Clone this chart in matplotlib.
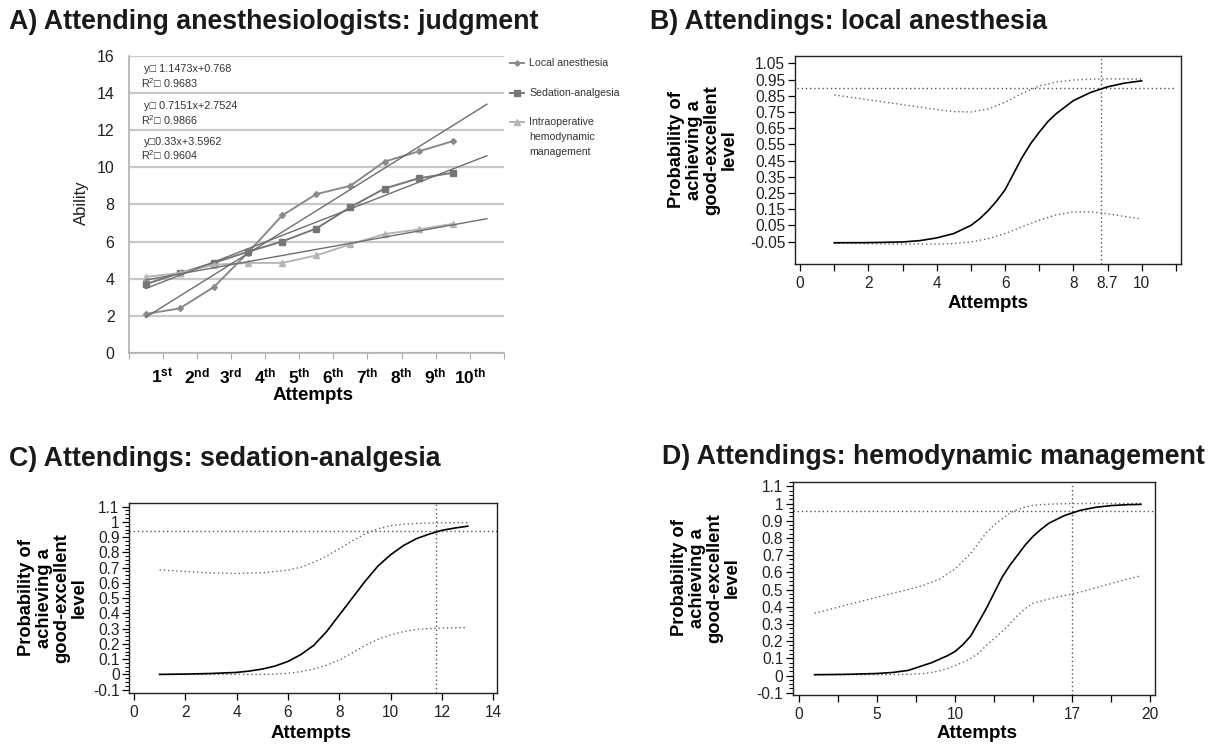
import matplotlib
matplotlib.use('Agg')
import matplotlib.pyplot as plt
import numpy as np
from matplotlib.ticker import MultipleLocator
from matplotlib.lines import Line2D

W, H = 1221, 744
plt.rcParams['font.family'] = ['Liberation Sans', 'DejaVu Sans']
plt.rcParams['mathtext.fontset'] = 'custom'
plt.rcParams['mathtext.rm'] = 'Liberation Sans'
plt.rcParams['mathtext.bf'] = 'Liberation Sans:bold'
plt.rcParams['mathtext.it'] = 'Liberation Sans:italic'

# ---------------- Panel A data ----------------
attempt_idx = [1, 2, 3, 4, 5, 6, 7, 8, 9, 10]
attempt_labels = [r'1$^{\mathbf{st}}$', r'2$^{\mathbf{nd}}$', r'3$^{\mathbf{rd}}$',
                  r'4$^{\mathbf{th}}$', r'5$^{\mathbf{th}}$', r'6$^{\mathbf{th}}$',
                  r'7$^{\mathbf{th}}$', r'8$^{\mathbf{th}}$', r'9$^{\mathbf{th}}$',
                  r'10$^{\mathbf{th}}$']
local_anesthesia = [2.1, 2.4, 3.55, 5.4, 7.4, 8.55, 9.0, 10.3, 10.85, 11.4]
sedation_analgesia = [3.7, 4.3, 4.85, 5.45, 6.0, 6.7, 7.85, 8.85, 9.4, 9.7]
hemodynamic = [4.1, 4.3, 4.75, 4.85, 4.85, 5.25, 5.85, 6.4, 6.65, 6.95]
series_names = ['Local anesthesia', 'Sedation-analgesia',
                'Intraoperative\nhemodynamic\nmanagement']
trend_slopes = [1.1473, 0.7151, 0.33]
trend_intercepts = [0.768, 2.7524, 3.5962]
trend_r2 = ['0.9683', '0.9866', '0.9604']
trend_eq = ['y\u25a1 1.1473x+0.768', 'y\u25a1 0.7151x+2.7524', 'y\u25a10.33x+3.5962']
trend_range = [1, 11]

# ---------------- Panel B data ----------------
b_x = [1, 2, 3, 3.5, 4, 4.5, 5, 5.25, 5.5, 5.75, 6, 6.25, 6.5, 6.75, 7, 7.25, 7.5, 8, 8.5, 9, 9.5, 10]
b_y = [-0.057, -0.056, -0.052, -0.044, -0.027, 0.0, 0.05, 0.09, 0.14, 0.2, 0.27, 0.37, 0.47,
       0.555, 0.625, 0.69, 0.74, 0.82, 0.87, 0.905, 0.928, 0.942]
b_up_x = [1, 1.5, 2, 2.5, 3, 3.5, 4, 4.5, 5, 5.5, 6, 6.5, 7, 7.5, 8, 8.5, 9, 9.5, 10]
b_up_y = [0.855, 0.84, 0.825, 0.81, 0.795, 0.78, 0.765, 0.752, 0.75, 0.768, 0.81, 0.865,
          0.91, 0.935, 0.947, 0.952, 0.954, 0.954, 0.953]
b_lo_x = [1, 2, 3, 4, 4.5, 5, 5.5, 6, 6.5, 7, 7.5, 8, 8.5, 9, 9.5, 10]
b_lo_y = [-0.06, -0.062, -0.065, -0.065, -0.062, -0.052, -0.032, 0.0, 0.042, 0.083, 0.115,
          0.133, 0.134, 0.122, 0.105, 0.09]
b_threshold = 0.90
b_cutoff = 8.8
b_xticks = [0, 1, 2, 3, 4, 5, 6, 7, 8, 9, 10, 11]
b_xticklabels = ['0', '', '2', '', '4', '', '6', '', '8', '8.7', '10', '']
b_yticks = [-0.05, 0.05, 0.15, 0.25, 0.35, 0.45, 0.55, 0.65, 0.75, 0.85, 0.95, 1.05]

# ---------------- Panel C data ----------------
c_x = [1, 2, 3, 4, 4.5, 5, 5.5, 6, 6.5, 7, 7.5, 8, 8.5, 9, 9.5, 10, 10.5, 11, 11.5, 12, 12.5, 13]
c_y = [0.0, 0.002, 0.006, 0.013, 0.022, 0.035, 0.055, 0.085, 0.13, 0.19, 0.28, 0.39, 0.5,
       0.61, 0.71, 0.785, 0.845, 0.89, 0.92, 0.945, 0.96, 0.972]
c_up_x = [1, 2, 3, 4, 5, 6, 6.5, 7, 7.5, 8, 8.5, 9, 9.5, 10, 10.5, 11, 12, 13]
c_up_y = [0.685, 0.675, 0.665, 0.662, 0.666, 0.683, 0.703, 0.735, 0.775, 0.825, 0.875,
          0.92, 0.955, 0.975, 0.985, 0.99, 0.995, 0.995]
c_lo_x = [1, 2, 3, 4, 5, 5.5, 6, 6.5, 7, 7.5, 8, 8.5, 9, 9.5, 10, 10.5, 11, 12, 13]
c_lo_y = [0.0, 0.0, 0.0, 0.0, 0.0, 0.002, 0.007, 0.018, 0.035, 0.06, 0.095, 0.14, 0.19,
          0.23, 0.26, 0.28, 0.295, 0.305, 0.307]
c_threshold = 0.943
c_cutoff = 11.75
c_xticks = [0, 2, 4, 6, 8, 10, 12, 14]
c_yticks = [-0.1, 0, 0.1, 0.2, 0.3, 0.4, 0.5, 0.6, 0.7, 0.8, 0.9, 1.0, 1.1]
c_yticklabels = ['-0.1', '0', '0.1', '0.2', '0.3', '0.4', '0.5', '0.6', '0.7', '0.8', '0.9', '1', '1.1']

# ---------------- Panel D data ----------------
d_x = [1, 3, 5, 6, 7, 8, 8.5, 9, 9.5, 10, 10.5, 11, 11.5, 12, 12.5, 13, 13.5, 14, 14.5, 15,
       15.5, 16, 17, 18, 19, 20, 21, 21.9]
d_y = [0.005, 0.007, 0.012, 0.018, 0.03, 0.06, 0.075, 0.095, 0.115, 0.14, 0.18, 0.23, 0.31,
       0.39, 0.48, 0.57, 0.64, 0.7, 0.76, 0.81, 0.85, 0.885, 0.93, 0.96, 0.978, 0.988, 0.993, 0.995]
d_up_x = [1, 2, 3, 4, 5, 6, 7, 8, 9, 10, 10.5, 11, 11.5, 12, 12.5, 13, 13.5, 14, 14.5, 15,
          16, 17, 18, 19, 20, 21, 21.9]
d_up_y = [0.362, 0.385, 0.41, 0.432, 0.455, 0.478, 0.5, 0.525, 0.56, 0.62, 0.665, 0.71, 0.77,
          0.83, 0.875, 0.91, 0.945, 0.965, 0.98, 0.99, 0.996, 0.999, 1.0, 1.0, 1.0, 1.0, 1.0]
d_lo_x = [1, 3, 5, 7, 8, 8.5, 9, 9.5, 10, 10.5, 11, 11.5, 12, 12.5, 13, 13.5, 14, 14.5, 15,
          16, 17, 18, 19, 20, 21, 21.9]
d_lo_y = [0.005, 0.005, 0.005, 0.007, 0.012, 0.018, 0.028, 0.04, 0.058, 0.077, 0.1, 0.13,
          0.175, 0.215, 0.255, 0.3, 0.35, 0.39, 0.42, 0.445, 0.465, 0.485, 0.51, 0.535, 0.56, 0.58]
d_threshold = 0.955
d_cutoff = 17.5
d_xticks = [0, 2.5, 5, 7.5, 10, 12.5, 15, 17.5, 20, 22.5]
d_xticklabels = ['0', '', '5', '', '10', '', '', '17', '', '20']
d_yticks = c_yticks
d_yticklabels = c_yticklabels

titles = ['A) Attending anesthesiologists: judgment',
          'B) Attendings: local anesthesia',
          'C) Attendings: sedation-analgesia',
          'D) Attendings: hemodynamic management']
prob_label = 'Probability of\nachieving a\ngood-excellent\nlevel'

# ---------------- Figure ----------------
fig = plt.figure(figsize=(W / 100, H / 100), dpi=100)


def add_ax(l, t, r, b):
    return fig.add_axes([l / W, 1 - b / H, (r - l) / W, (b - t) / H])


def ftext(x, y, s, **kw):
    return fig.text(x / W, 1 - y / H, s, **kw)


TITLE_FS = 19.3
title_kw = dict(fontsize=TITLE_FS, fontweight='bold', va='center', ha='left', color='#1a1a1a')
ftext(9, 22, titles[0], **title_kw)
ftext(650, 22, titles[1], **title_kw)
ftext(9, 459, titles[2], **title_kw)
ftext(662, 457, titles[3], **title_kw)

LABEL_FS = 13.5
PROB_FS = 13.2
PROB_LS = 1.05

# ---------------- Panel A ----------------
axA = add_ax(128.5, 55.7, 504, 353)
axA.set_xlim(0, 11)
axA.set_ylim(0, 16)
axA.set_yticks(range(0, 17, 2))
axA.yaxis.grid(True, color='#c8c8c8', lw=1.6)
axA.set_axisbelow(True)
axA.tick_params(axis='y', length=0, labelsize=11.5, pad=10, labelcolor='#222222')
axA.set_xticks(range(0, 12))
axA.set_xticklabels([''] + attempt_labels + [''], fontweight='bold', fontsize=12.5)
axA.tick_params(axis='x', length=4, color='#aaaaaa', direction='out', pad=6)
for s in ['top', 'right']:
    axA.spines[s].set_visible(False)
for s in ['left', 'bottom']:
    axA.spines[s].set_color('#b0b0b0')
    axA.spines[s].set_linewidth(1.2)

pos = np.array(attempt_idx) - 0.5
series = [local_anesthesia, sedation_analgesia, hemodynamic]
colors = ['#8a8a8a', '#777777', '#b5b5b5']
markers = ['D', 's', '^']
msizes = [3, 5, 4.5]
trend_x = np.array(trend_range)
for vals, c, m, ms, sl, ic in zip(series, colors, markers, msizes, trend_slopes, trend_intercepts):
    axA.plot(pos, vals, color=c, marker=m, ms=ms, lw=1.4, zorder=3)
    axA.plot(trend_x - 0.5, sl * trend_x + ic, color='#6e6e6e', lw=1.0, zorder=4)

eq_y = [0.955, 0.83, 0.71]
for i in range(3):
    axA.text(0.042, eq_y[i], trend_eq[i], transform=axA.transAxes, fontsize=7.8,
             family=['Liberation Sans', 'DejaVu Sans'], color='#333333', va='center')
    axA.text(0.033, eq_y[i] - 0.046, r'R$^{2}$' + '\u25a1 ' + trend_r2[i], transform=axA.transAxes,
             fontsize=7.8, family=['Liberation Sans', 'DejaVu Sans'], color='#333333', va='center')

# legend (manual)
leg_y = [62.7, 92.7, 122]
for i in range(3):
    yy = 1 - leg_y[i] / H
    fig.add_artist(Line2D([510 / W, 524 / W], [yy, yy], color=colors[i], lw=1.4,
                          transform=fig.transFigure))
    fig.add_artist(Line2D([517 / W], [yy], color=colors[i], marker=markers[i], ms=msizes[i] * 0.9,
                          transform=fig.transFigure))
    ftext(529, leg_y[i] - 5, series_names[i], fontsize=7.6, va='top', ha='left',
          color='#333333', linespacing=1.65)

ftext(81, 203, 'Ability', rotation=90, fontsize=12, ha='center', va='center', color='#222222')
ftext(313, 395, 'Attempts', fontsize=LABEL_FS, fontweight='bold', ha='center', va='center')

# ---------------- Probability panels ----------------
dot = (0, (1, 2))


def prob_panel(ax, x, y, ux, uy, lx, ly, thr, cut, hx, xticks, xlabels, yticks, ylabels,
               yminor=None):
    ax.plot(x, y, color='black', lw=1.2, zorder=4)
    ax.plot(ux, uy, color='#666666', lw=1.0, ls=dot, zorder=3)
    ax.plot(lx, ly, color='#666666', lw=1.0, ls=dot, zorder=3)
    ax.axhline(thr, xmin=hx[0], xmax=hx[1], color='#555555', lw=1.0, ls=dot)
    ax.axvline(cut, color='#555555', lw=1.0, ls=dot)
    ax.set_xticks(xticks)
    ax.set_xticklabels(xlabels)
    ax.set_yticks(yticks)
    ax.set_yticklabels(ylabels)
    if yminor:
        ax.yaxis.set_minor_locator(MultipleLocator(yminor))
        ax.tick_params(axis='y', which='minor', length=3, width=0.8)
    ax.tick_params(axis='both', which='major', labelsize=11.2, length=5, width=0.9,
                   labelcolor='#222222')
    ax.tick_params(axis='y', which='major', pad=2)
    for s in ax.spines.values():
        s.set_linewidth(1.0)
        s.set_color('#222222')


axB = add_ax(795, 55.7, 1181, 264)
axB.set_xlim(-0.15, 11.15)
axB.set_ylim(-0.188, 1.097)
prob_panel(axB, b_x, b_y, b_up_x, b_up_y, b_lo_x, b_lo_y, b_threshold, b_cutoff, (0.005, 0.985),
           b_xticks, b_xticklabels, b_yticks, ['%.2f' % v for v in b_yticks])
ftext(703, 150, prob_label, rotation=90, fontsize=PROB_FS, fontweight='bold', ha='center',
      va='center', multialignment='center', linespacing=PROB_LS)
ftext(988, 303, 'Attempts', fontsize=LABEL_FS, fontweight='bold', ha='center', va='center')

axC = add_ax(129.3, 503, 497, 693)
axC.set_xlim(-0.18, 14.14)
axC.set_ylim(-0.122, 1.124)
prob_panel(axC, c_x, c_y, c_up_x, c_up_y, c_lo_x, c_lo_y, c_threshold, c_cutoff, (0.0, 1.0),
           c_xticks, [str(v) for v in c_xticks], c_yticks, c_yticklabels, yminor=0.025)
ftext(53, 598, prob_label, rotation=90, fontsize=PROB_FS, fontweight='bold', ha='center',
      va='center', multialignment='center', linespacing=PROB_LS)
ftext(311, 733, 'Attempts', fontsize=LABEL_FS, fontweight='bold', ha='center', va='center')

axD = add_ax(793, 482, 1155, 695)
axD.set_xlim(-0.38, 22.8)
axD.set_ylim(-0.113, 1.125)
prob_panel(axD, d_x, d_y, d_up_x, d_up_y, d_lo_x, d_lo_y, d_threshold, d_cutoff, (0.0, 1.0),
           d_xticks, d_xticklabels, d_yticks, d_yticklabels, yminor=0.025)
ftext(706, 578, prob_label, rotation=90, fontsize=PROB_FS, fontweight='bold', ha='center',
      va='center', multialignment='center', linespacing=PROB_LS)
ftext(977, 733, 'Attempts', fontsize=LABEL_FS, fontweight='bold', ha='center', va='center')

fig.savefig('out.png', dpi=100)
